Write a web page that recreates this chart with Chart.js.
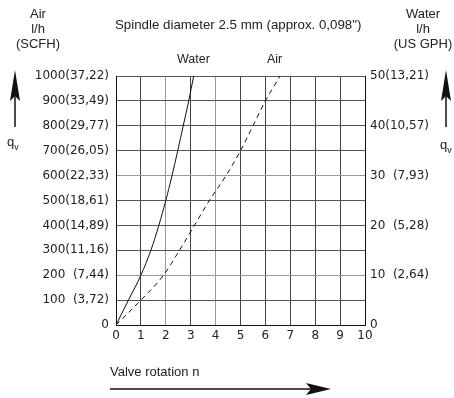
<!DOCTYPE html>
<html>
<head>
<meta charset="utf-8">
<script src="https://cdn.jsdelivr.net/npm/chart.js@4"></script>
<style>
  body { margin: 0; background: #fff; }
  #wrap { position: relative; width: 454px; height: 398px; font-family: "Liberation Sans", Arial, sans-serif; font-size: 13px; color: #222; }
  #grafico { position: absolute; left: 0; top: 0; }
  .txt { position: absolute; white-space: pre; line-height: 15px; }
  .c { text-align: center; }
</style>
</head>
<body>
<div id="wrap">
  <canvas id="grafico" width="454" height="398"></canvas>
  <div class="txt c" style="left:8px; top:6px; width:60px;">Air
l/h
(SCFH)</div>
  <div class="txt c" style="left:393px; top:6px; width:60px;">Water
l/h
(US GPH)</div>
  <div class="txt" style="left:115px; top:17px; font-size:13.3px;">Spindle diameter 2.5 mm (approx. 0,098")</div>
  <div class="txt" style="left:177px; top:52px; font-size:12.5px;">Water</div>
  <div class="txt" style="left:267px; top:52px; font-size:12.5px;">Air</div>
  <div class="txt" style="left:7px; top:134px;">q<sub style="font-size:9px">v</sub></div>
  <div class="txt" style="left:440px; top:137px;">q<sub style="font-size:9px">v</sub></div>
  <div class="txt" style="left:110px; top:364px;">Valve rotation n</div>
</div>
<script>
// valores (rotação n para cada vazão q)
const rotacao = [0, 1, 2, 3, 4, 5, 6, 7, 8, 9, 10];
const vazao = [0, 100, 200, 300, 400, 500, 600, 700, 800, 900, 1000];
const aguaN = [0, 0.5, 1.0, 1.4, 1.72, 2.0, 2.25, 2.48, 2.7, 2.92, 3.12];
const arN = [0, 1.0, 1.91, 2.55, 3.15, 3.75, 4.42, 5.0, 5.5, 6.0, 6.59];
const rotulosEsq = ['0', '100  (3,72)', '200  (7,44)', '300(11,16)', '400(14,89)', '500(18,61)',
  '600(22,33)', '700(26,05)', '800(29,77)', '900(33,49)', '1000(37,22)'];
const rotulosDir = ['0', '10  (2,64)', '20  (5,28)', '30  (7,93)', '40(10,57)', '50(13,21)'];

function pontos(xs, ys) {
    let lista = [];
    for (let i = 0; i < xs.length; i++) {
        lista.push({ x: xs[i], y: ys[i] });
    }
    return lista;
}

const fonte = { family: '"DejaVu Sans", sans-serif', size: 12 };

// setas
const setas = {
    id: 'setas',
    afterDraw(chart) {
        const ctx = chart.ctx;
        ctx.save();
        ctx.fillStyle = '#111';
        ctx.strokeStyle = '#111';
        ctx.lineWidth = 1.5;
        function setaCima(x) {
            ctx.beginPath();
            ctx.moveTo(x, 127);
            ctx.lineTo(x, 92);
            ctx.stroke();
            ctx.beginPath();
            ctx.moveTo(x, 70);
            ctx.lineTo(x - 5, 101);
            ctx.lineTo(x, 96);
            ctx.lineTo(x + 5, 101);
            ctx.closePath();
            ctx.fill();
        }
        setaCima(15);
        setaCima(446);
        ctx.beginPath();
        ctx.moveTo(110, 389);
        ctx.lineTo(315, 389);
        ctx.stroke();
        ctx.beginPath();
        ctx.moveTo(331, 389);
        ctx.lineTo(306, 383);
        ctx.lineTo(311, 389);
        ctx.lineTo(306, 395);
        ctx.closePath();
        ctx.fill();
        ctx.restore();
    }
};

const ctx = document.getElementById('grafico').getContext('2d');
new Chart(ctx, {
    type: 'scatter',
    data: {
        datasets: [{
            label: 'Water',
            data: pontos(aguaN, vazao),
            showLine: true,
            borderColor: '#111',
            borderWidth: 1,
            pointRadius: 0,
            cubicInterpolationMode: 'monotone'
        }, {
            label: 'Air',
            data: pontos(arN, vazao),
            showLine: true,
            borderColor: '#111',
            borderWidth: 1,
            borderDash: [5, 4],
            pointRadius: 0,
            cubicInterpolationMode: 'monotone'
        }]
    },
    options: {
        responsive: false,
        animation: false,
        layout: { padding: { left: 0, right: 0, top: 76, bottom: 0 } },
        plugins: { legend: { display: false }, tooltip: { enabled: false } },
        scales: {
            x: {
                type: 'linear',
                min: 0,
                max: 10,
                afterBuildTicks: s => { s.ticks = rotacao.map(v => ({ value: v })); },
                afterFit: s => { s.height = 73; },
                grid: {
                    color: c => (c.tick && (c.tick.value == 2 || c.tick.value == 4)) ? '#999' : '#444',
                    drawTicks: false
                },
                border: { color: '#111' },
                ticks: { color: '#222', font: fonte, padding: 4, maxRotation: 0 }
            },
            y: {
                min: 0,
                max: 1000,
                afterBuildTicks: s => { s.ticks = vazao.map(v => ({ value: v })); },
                afterFit: s => { s.width = 116; },
                grid: {
                    color: c => (c.tick && (c.tick.value == 200 || c.tick.value == 600)) ? '#999' : '#555',
                    drawTicks: false
                },
                border: { color: '#111' },
                ticks: {
                    color: '#222', font: fonte, padding: 7,
                    callback: (v, i) => rotulosEsq[i]
                }
            },
            y2: {
                position: 'right',
                min: 0,
                max: 50,
                afterBuildTicks: s => { s.ticks = rotulosDir.map((r, i) => ({ value: i * 10 })); },
                afterFit: s => { s.width = 89; },
                grid: { display: false, drawTicks: false },
                border: { color: '#111' },
                ticks: {
                    color: '#222', font: fonte, padding: 5,
                    callback: (v, i) => rotulosDir[i]
                }
            }
        }
    },
    plugins: [setas]
});
</script>
</body>
</html>
